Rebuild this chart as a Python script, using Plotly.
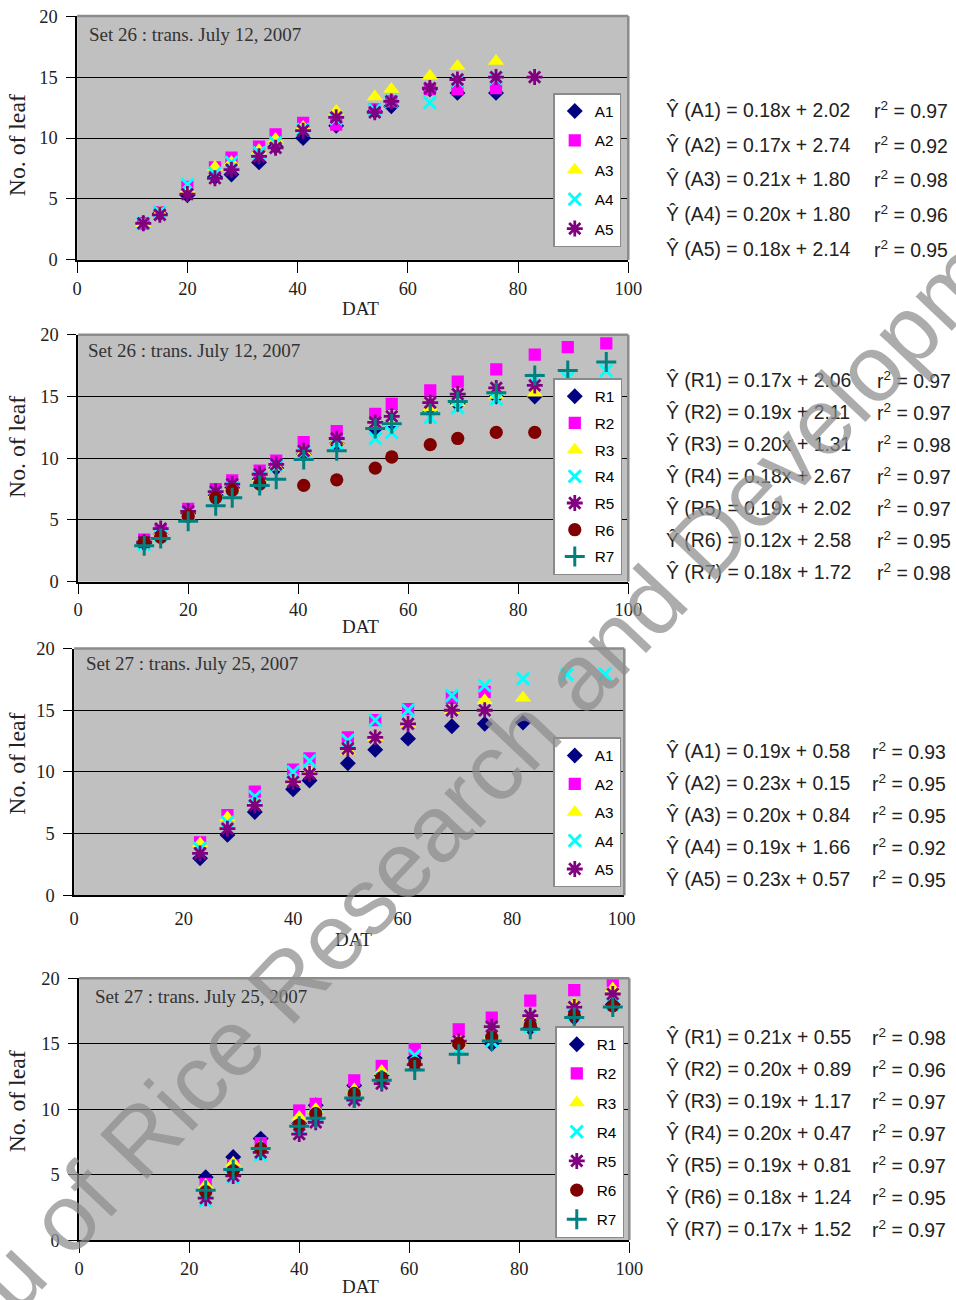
import plotly.graph_objects as go

# Rendering calibration: the photographed page appears scaled by (SX, SY) and offset
# by the 8px body margin, so target pixel positions are converted accordingly.
OFF = 8
SX, SY = 0.98, 0.9855
W, H = 959, 1303

# ---------------- data ----------------
panel_titles = ["Set 26 : trans. July 12, 2007", "Set 26 : trans. July 12, 2007",
                "Set 27 : trans. July 25, 2007", "Set 27 : trans. July 25, 2007"]
x_title = "DAT"
y_title = "No. of leaf"
x_ticks = [0, 20, 40, 60, 80, 100]
y_ticks = [0, 5, 10, 15, 20]

names_A = ["A1", "A2", "A3", "A4", "A5"]
names_R = ["R1", "R2", "R3", "R4", "R5", "R6", "R7"]

# Panel 1 : Set 26, A series
dat1 = [12, 15, 20, 25, 28, 33, 36, 41, 47, 54, 57, 64, 69, 76, 83]
p1_A1 = [3.0, 3.8, 5.3, 6.8, 7.0, 8.0, 9.3, 10.0, 11.0, 12.2, 12.6, 14.0, 13.7, 13.7]
p1_A2 = [3.0, 3.9, 6.0, 7.6, 8.4, 9.3, 10.3, 11.25, 11.1, 12.35, 13.0, 14.0, 14.0, 14.1]
p1_A3 = [3.0, 3.9, 5.8, 7.6, 8.0, 9.0, 9.9, 10.9, 12.2, 13.4, 14.0, 15.1, 15.9, 16.3]
p1_A4 = [3.0, 3.9, 6.2, 7.1, 8.0, 8.8, 9.6, 10.7, 11.6, 12.3, 13.0, 12.9, 14.7, 14.9]
p1_A5 = [3.0, 3.7, 5.4, 6.7, 7.4, 8.5, 9.2, 10.6, 11.7, 12.1, 13.0, 14.1, 14.8, 15.0, 15.0]

# Panel 2 : Set 26, R series
dat2 = [12, 15, 20, 25, 28, 33, 36, 41, 47, 54, 57, 64, 69, 76, 83, 89, 96]
p2_R1 = [3.1, 3.8, 5.5, 7.0, 7.6, 8.3, 9.2, 10.3, 11.2, 12.4, 12.7, 13.8, 14.4, 15.0, 15.0]
p2_R2 = [3.4, 4.1, 5.9, 7.5, 8.2, 9.0, 9.8, 11.3, 12.2, 13.6, 14.4, 15.5, 16.2, 17.2, 18.4, 19.0, 19.3]
p2_R3 = [3.1, 4.0, 5.6, 7.1, 7.7, 8.4, 9.3, 10.5, 11.4, 12.6, 12.9, 14.1, 14.5, 15.1, 15.3]
p2_R4 = [3.0, 3.7, 5.4, 7.0, 7.6, 8.5, 9.4, 10.5, 11.2, 11.6, 12.1, 13.3, 14.1, 14.8, 16.4, 16.5, 17.1]
p2_R5 = [3.2, 4.3, 5.7, 7.3, 7.9, 8.7, 9.5, 10.6, 11.6, 12.9, 13.4, 14.5, 15.2, 15.7, 15.9]
p2_R6 = [3.2, 3.6, 5.3, 6.8, 7.4, 7.9, None, 7.8, 8.25, 9.2, 10.1, 11.1, 11.6, 12.1, 12.1]
p2_R7 = [2.9, 3.5, 4.9, 6.15, 6.8, 7.8, 8.3, 9.9, 10.6, 12.4, 12.8, 13.6, 14.6, 15.3, 16.7, 17.1, 17.8]

# Panel 3 : Set 27, A series
dat3 = [23, 28, 33, 40, 43, 50, 55, 61, 69, 75, 82, 90, 97]
p3_A1 = [3.0, 4.9, 6.75, 8.6, 9.3, 10.7, 11.8, 12.7, 13.7, 13.9, 14.0]
p3_A2 = [4.3, 6.5, 8.4, 10.2, 11.1, 12.8, 14.2, 15.1, 16.0, 16.5]
p3_A3 = [4.2, 6.3, 7.55, 9.3, 10.0, 11.7, 12.8, 13.9, 15.0, 15.8, 16.0]
p3_A4 = [3.8, 5.9, 8.0, 10.0, 10.9, 12.55, 14.2, 15.0, 16.2, 17.0, 17.55, 17.9, 17.95]
p3_A5 = [3.4, 5.4, 7.3, 9.2, 9.85, 11.9, 12.8, 13.9, 15.0, 15.0]

# Panel 4 : Set 27, R series
dat4 = [23, 28, 33, 40, 43, 50, 55, 61, 69, 75, 82, 90, 97]
p4_R1 = [4.8, 6.35, 7.75, 8.9, 10.3, 11.8, 12.6, 13.9, 15.0, 15.0, 16.2, 17.0, 18.0]
p4_R2 = [4.3, 5.7, 7.4, 9.9, 10.4, 12.2, 13.3, 14.6, 16.1, 17.0, 18.3, 19.1, 19.8]
p4_R3 = [4.2, 5.9, 7.2, 9.4, 10.0, 11.5, 12.9, 13.6, 15.2, 15.7, 17.0, 18.0, 19.2]
p4_R4 = [3.0, 4.8, 6.5, 8.5, 9.5, 11.0, 12.3, 14.1, 14.6, 15.2, 16.3, 17.2, 18.0]
p4_R5 = [3.2, 4.9, 6.7, 8.1, 9.0, 10.7, 11.95, 13.4, 15.2, 16.3, 17.15, 17.8, 18.8]
p4_R6 = [3.7, 5.3, 7.0, 8.8, 9.65, 11.2, 12.4, 13.5, 15.0, 15.5, 16.4, 17.15, 17.9]
p4_R7 = [3.8, 5.4, 7.0, 8.7, 9.3, 10.85, 12.2, 13.0, 14.2, 15.2, 16.1, 17.0, 17.8]

# regression equations
eq1_slope = [0.18, 0.17, 0.21, 0.20, 0.18]
eq1_icpt = [2.02, 2.74, 1.80, 1.80, 2.14]
eq1_r2 = [0.97, 0.92, 0.98, 0.96, 0.95]
eq2_slope = [0.17, 0.19, 0.20, 0.18, 0.19, 0.12, 0.18]
eq2_icpt = [2.06, 2.11, 1.31, 2.67, 2.02, 2.58, 1.72]
eq2_r2 = [0.97, 0.97, 0.98, 0.97, 0.97, 0.95, 0.98]
eq3_slope = [0.19, 0.23, 0.20, 0.19, 0.23]
eq3_icpt = [0.58, 0.15, 0.84, 1.66, 0.57]
eq3_r2 = [0.93, 0.95, 0.95, 0.92, 0.95]
eq4_slope = [0.21, 0.20, 0.19, 0.20, 0.19, 0.18, 0.17]
eq4_icpt = [0.55, 0.89, 1.17, 0.47, 0.81, 1.24, 1.52]
eq4_r2 = [0.98, 0.96, 0.97, 0.97, 0.97, 0.95, 0.97]

watermark = "Bureau of Rice Research and Development"

# ---------------- styles ----------------
SERIF = "Liberation Serif, Times New Roman, serif"
SANS = "Liberation Sans, Arial, sans-serif"
K = 1 / SX  # size compensation

marker_styles = [
    dict(symbol="diamond", color="#000080", size=12 * K),
    dict(symbol="square", color="#FF00FF", size=12 * K),
    dict(symbol="triangle-up", color="#FFFF00", size=14 * K),
    dict(symbol="x-thin-open", color="#00FFFF", size=12 * K, line=dict(width=3, color="#00FFFF")),
    dict(symbol="asterisk-open", color="#800080", size=13 * K, line=dict(width=2.8, color="#800080")),
    dict(symbol="circle", color="#800000", size=13 * K),
    dict(symbol="cross-thin-open", color="#008080", size=14 * K, line=dict(width=3, color="#008080")),
]

# target pixel geometry (as seen in the final picture) of each panel
panels = [
    dict(x0=80, x1=631, y0=14, y1=258, xmax=100, ticks=True, leg=(624, 91), gap=6.5,
         tpos=(90, 32), dat_xy=(363, 307), ytit_y=143, eq_y=107.5, eq_dy=35, r2_x=875,
         dat=dat1, series=[p1_A1, p1_A2, p1_A3, p1_A4, p1_A5], names=names_A,
         eq=(eq1_slope, eq1_icpt, eq1_r2)),
    dict(x0=81, x1=631, y0=333, y1=580, xmax=100, ticks=True, leg=(625, 376.5), gap=3.8,
         tpos=(89, 349), dat_xy=(363, 625), ytit_y=445, eq_y=378.5, eq_dy=32, r2_x=878,
         dat=dat2, series=[p2_R1, p2_R2, p2_R3, p2_R4, p2_R5, p2_R6, p2_R7], names=names_R,
         eq=(eq2_slope, eq2_icpt, eq2_r2)),
    dict(x0=77, x1=627, y0=647, y1=894, xmax=100.5, ticks=False, leg=(624, 736), gap=5.5,
         tpos=(87, 662), dat_xy=(356, 938), ytit_y=762, eq_y=749.5, eq_dy=32, r2_x=873,
         dat=dat3, series=[p3_A1, p3_A2, p3_A3, p3_A4, p3_A5], names=names_A,
         eq=(eq3_slope, eq3_icpt, eq3_r2)),
    dict(x0=82, x1=632, y0=977, y1=1239, xmax=100, ticks=True, leg=(627, 1025), gap=6.3,
         tpos=(96, 995), dat_xy=(363, 1285), ytit_y=1100, eq_y=1035.5, eq_dy=32, r2_x=873,
         dat=dat4, series=[p4_R1, p4_R2, p4_R3, p4_R4, p4_R5, p4_R6, p4_R7], names=names_R,
         eq=(eq4_slope, eq4_icpt, eq4_r2)),
]


def px(x):
    return (x / SX - OFF) / W


def py(y):
    return 1 - (y / SY - OFF) / H


fig = go.Figure()
annotations = []
shapes = []
layout = {}

for i, p in enumerate(panels, start=1):
    sfx = "" if i == 1 else str(i)
    xa, ya = "x" + sfx, "y" + sfx
    legname = "legend" + sfx
    for k, (name, vals) in enumerate(zip(p["names"], p["series"])):
        xs = p["dat"][:len(vals)]
        fig.add_trace(go.Scatter(
            x=xs, y=vals, mode="markers", name=name,
            marker=marker_styles[k], xaxis=xa, yaxis=ya,
            legend=legname, legendgroup=f"p{i}{name}", showlegend=True,
        ))

    layout["xaxis" + sfx] = dict(
        domain=[px(p["x0"]), px(p["x1"])], range=[0, p["xmax"]], anchor=ya,
        tickvals=x_ticks, showgrid=False, zeroline=False,
        showline=True, linecolor="black", linewidth=1.5,
        ticks="outside" if p["ticks"] else "", ticklen=11, tickwidth=1.2, tickcolor="black",
        ticklabelstandoff=0 if p["ticks"] else 6,
        tickfont=dict(family=SERIF, size=18.4, color="#222"),
    )
    layout["yaxis" + sfx] = dict(
        domain=[py(p["y1"]), py(p["y0"])], range=[0, 20], anchor=xa,
        tickvals=y_ticks, showgrid=True, gridcolor="black", gridwidth=1.3,
        zeroline=False, showline=True, linecolor="black", linewidth=1.5,
        ticks="outside", ticklen=9, tickwidth=1.2, tickcolor="black",
        ticklabelstandoff=5,
        tickfont=dict(family=SERIF, size=18.4, color="#222"),
    )
    lx, ly = p["leg"]
    layout[legname] = dict(
        x=px(lx), y=py(ly), xanchor="right", yanchor="top",
        bgcolor="white", bordercolor="#8a8a8a", borderwidth=1.5,
        font=dict(family=SANS, size=15.3, color="black"),
        tracegroupgap=p["gap"], itemwidth=30,
    )
    # grey top and right frame of plot area
    shapes.append(dict(type="line", xref="paper", yref="paper",
                       x0=px(p["x0"]), x1=px(p["x1"]), y0=py(p["y0"]), y1=py(p["y0"]),
                       line=dict(color="#8c8c8c", width=2.5), layer="above"))
    shapes.append(dict(type="line", xref="paper", yref="paper",
                       x0=px(p["x1"]), x1=px(p["x1"]), y0=py(p["y0"]), y1=py(p["y1"]),
                       line=dict(color="#8c8c8c", width=2.5), layer="above"))
    # panel title
    tx, ty = p["tpos"]
    annotations.append(dict(text=panel_titles[i - 1], x=px(tx), y=py(ty), xref="paper", yref="paper",
                            xanchor="left", yanchor="middle", showarrow=False,
                            font=dict(family=SERIF, size=19, color="#333")))
    # axis titles
    dx, dy = p["dat_xy"]
    annotations.append(dict(text=x_title, x=px(dx), y=py(dy),
                            xref="paper", yref="paper", xanchor="center", yanchor="middle",
                            showarrow=False, font=dict(family=SERIF, size=19, color="#222")))
    annotations.append(dict(text=y_title, x=px(20), y=py(p["ytit_y"]), xref="paper", yref="paper",
                            xanchor="center", yanchor="middle", textangle=-90, showarrow=False,
                            font=dict(family=SERIF, size=23.7, color="#222")))
    # regression equations
    slopes, icpts, r2s = p["eq"]
    for k, name in enumerate(p["names"]):
        yy = p["eq_y"] + k * p["eq_dy"]
        annotations.append(dict(text=f"\u0176 ({name}) = {slopes[k]:.2f}x + {icpts[k]:.2f}",
                                x=px(667), y=py(yy), xref="paper", yref="paper",
                                xanchor="left", yanchor="middle", showarrow=False,
                                font=dict(family=SANS, size=19.4, color="#222")))
        annotations.append(dict(text=f"r<sup>2</sup> = {r2s[k]:.2f}",
                                x=px(p["r2_x"]), y=py(yy), xref="paper", yref="paper",
                                xanchor="left", yanchor="middle", showarrow=False,
                                font=dict(family=SANS, size=19.4, color="#222")))

# watermark
annotations.append(dict(text=watermark, x=px(446), y=py(818), xref="paper", yref="paper",
                        xanchor="center", yanchor="middle", textangle=-46.5, showarrow=False,
                        font=dict(family=SANS, size=94, color="rgba(140,140,140,0.72)")))

fig.update_layout(
    width=W, height=H, margin=dict(l=0, r=0, t=0, b=0),
    paper_bgcolor="white", plot_bgcolor="#C0C0C0",
    annotations=annotations, shapes=shapes, **layout,
)

fig.write_html("out.html")
